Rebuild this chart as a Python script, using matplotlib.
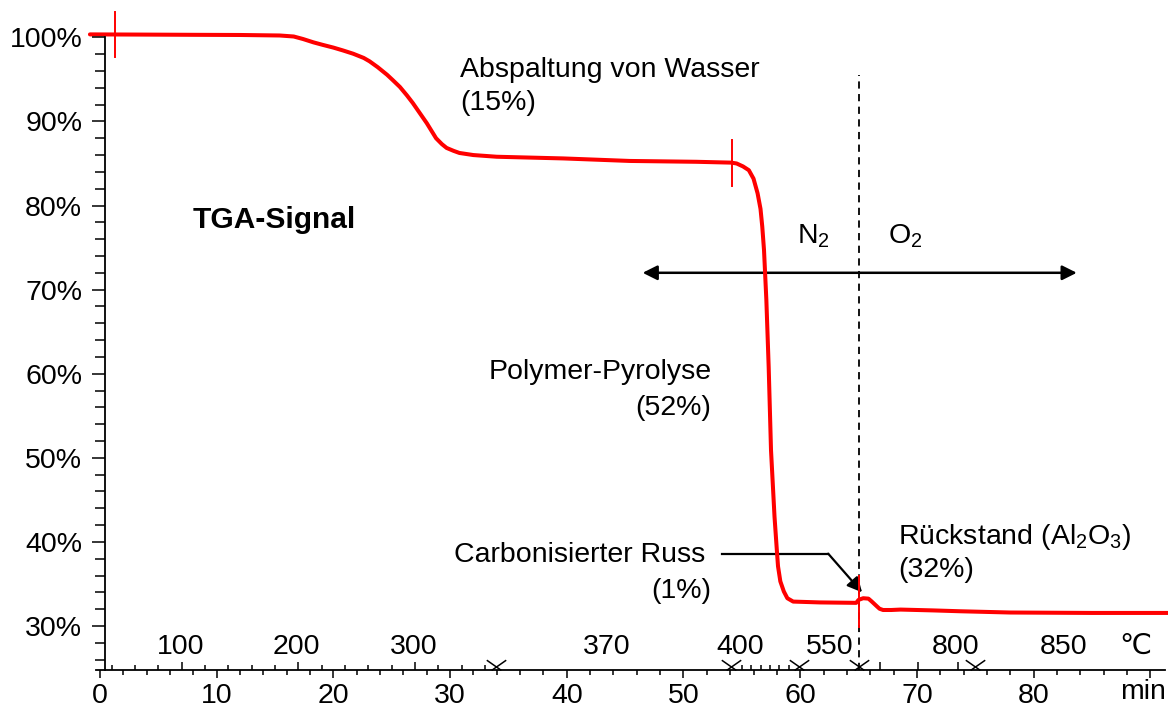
import matplotlib
matplotlib.use("Agg")
import matplotlib.pyplot as plt
from matplotlib.path import Path

plt.rcParams["font.family"] = ["Liberation Sans", "DejaVu Sans"]
plt.rcParams["mathtext.default"] = "regular"
plt.rcParams["mathtext.fontset"] = "custom"
plt.rcParams["mathtext.rm"] = "Liberation Sans"

FS = 20.5
RED = "#ff0000"

# TGA curve: time (min) vs. mass (%)
TIME_MIN = [-0.86, 3.0, 8.0, 12.0, 15.4, 16.6, 17.4, 18.3, 19.1, 20.0, 20.8,
            21.7, 22.6, 23.1, 23.8, 24.6, 25.1, 25.7, 26.3, 26.8, 27.4, 28.0,
            28.4, 28.8, 29.3, 29.7, 30.3, 30.8, 32.0, 34.0, 39.7, 45.4, 51.1,
            54.1, 54.55, 55.1, 55.6, 56.0, 56.35, 56.6, 56.75, 56.9, 57.1,
            57.3, 57.5, 57.8, 58.0, 58.1, 58.3, 58.6, 58.9, 59.4, 61.7, 64.8,
            65.0, 65.4, 65.85, 66.1, 66.6, 66.8, 67.1, 67.8, 68.6, 71.4, 73.7,
            78.0, 85.0, 91.5]
MASS_PCT = [100.35, 100.33, 100.3, 100.28, 100.22, 100.1, 99.8, 99.4, 99.1,
            98.78, 98.45, 98.05, 97.55, 97.15, 96.45, 95.55, 94.9, 94.1, 93.1,
            92.2, 91.0, 89.8, 88.9, 88.0, 87.3, 86.85, 86.5, 86.25, 86.0, 85.8,
            85.6, 85.3, 85.2, 85.1, 85.0, 84.65, 84.2, 83.2, 81.45, 79.6, 77.5,
            74.7, 68.8, 60.8, 50.9, 43.0, 39.0, 37.1, 35.3, 34.1, 33.3, 32.9,
            32.8, 32.75, 33.1, 33.3, 33.25, 32.95, 32.3, 32.05, 31.9, 31.9,
            31.95, 31.85, 31.75, 31.6, 31.55, 31.55]

# step limit markers (red crosses on the curve)
STEP_T = [1.3, 54.2, 65.0]
STEP_LO = [97.7, 82.3, 29.9]
STEP_HI = [103.0, 87.8, 35.9]

# gas switch N2 -> O2
SWITCH_T = 65.0
SWITCH_TOP = 95.5
GAS_ARROW = (46.5, 83.7, 72.0)

# temperature scale along the time axis
TEMP_LABELS = ["100", "200", "300", "370", "400", "550", "800", "850"]
TEMP_POS = [6.9, 16.8, 26.9, 43.4, 54.9, 62.5, 73.3, 82.6]
TEMP_MINOR = [1, 3, 5, 9, 11, 13, 15, 19, 21, 23, 25, 29, 31, 33,
              55.0, 55.8, 56.6, 57.4, 58.2, 59.0]
TEMP_MAJOR = [7, 17, 27, 66.8, 70.1, 73.5]
SEGMENT_BREAKS = [33.9, 54.1, 59.9, 65.0, 75.0]

TIME_TICKS = list(range(0, 91, 10))
TIME_LABELS = ["0", "10", "20", "30", "40", "50", "60", "70", "80", ""]
PCT_TICKS = list(range(30, 101, 10))

W, H = 1171, 715
fig = plt.figure(figsize=(W / 100, H / 100), dpi=100)

x0, x1 = -1.0, 91.5
y0, y1 = 24.8, 104.0
ax_l, ax_r = 88.3, 1167.8
ax_top, ax_bot = 3.7, 669.7
rect = [ax_l / W, (H - ax_bot) / H, (ax_r - ax_l) / W, (ax_bot - ax_top) / H]

ax = fig.add_axes(rect)
ax.set_xlim(x0, x1)
ax.set_ylim(y0, y1)
for s in ("top", "right", "left"):
    ax.spines[s].set_visible(False)
ax.spines["bottom"].set_bounds(-0.3, 91.3)
ax.spines["bottom"].set_linewidth(1.3)
ax.set_yticks([])
ax.set_xticks(TIME_TICKS)
ax.set_xticklabels(TIME_LABELS)
ax.set_xticks([t for t in range(2, 91, 2) if t % 10], minor=True)
ax.tick_params(axis="x", which="major", direction="out", length=5.5, width=1.1,
               labelsize=FS, pad=4)
ax.tick_params(axis="x", which="minor", direction="out", length=3.6, width=1.1)

# temperature ticks pointing up from the time axis
at = ax.twiny()
at.set_xlim(x0, x1)
for s in at.spines.values():
    s.set_visible(False)
at.xaxis.set_ticks_position("bottom")
at.set_xticks(TEMP_MAJOR)
at.set_xticks(TEMP_MINOR, minor=True)
at.tick_params(axis="x", which="both", direction="in", labelbottom=False,
               labeltop=False, width=1.1)
at.tick_params(axis="x", which="major", length=6)
at.tick_params(axis="x", which="minor", length=3.6)

# separate y axis
ay = fig.add_axes([105 / W, rect[1], 0.001, rect[3]])
ay.set_ylim(y0, y1)
ay.patch.set_visible(False)
for s in ("top", "right", "bottom"):
    ay.spines[s].set_visible(False)
ay.spines["left"].set_bounds(y0, 100)
ay.spines["left"].set_linewidth(1.3)
ay.set_xticks([])
ay.set_yticks(PCT_TICKS)
ay.set_yticklabels([f"{p}%" for p in PCT_TICKS])
ay.set_yticks([p for p in range(26, 100, 2) if p % 10], minor=True)
ay.tick_params(axis="y", which="major", length=9.4, width=1.1, labelsize=FS, pad=7)
ay.tick_params(axis="y", which="minor", length=7.2, width=1.1)

# curve and markers
ax.plot(TIME_MIN, MASS_PCT, color=RED, lw=2.9, solid_joinstyle="round",
        solid_capstyle="round", zorder=5)
for t, lo, hi in zip(STEP_T, STEP_LO, STEP_HI):
    ax.plot([t, t], [lo, hi], color=RED, lw=1.4, zorder=5)

ax.plot([SWITCH_T, SWITCH_T], [y0, SWITCH_TOP], color="black", lw=1.3,
        ls=(0, (4, 3)), zorder=3)

a0, a1, ay_ = GAS_ARROW
ax.annotate("", xy=(a1, ay_), xytext=(a0, ay_),
            arrowprops=dict(arrowstyle="<|-|>", color="black", lw=1.8,
                            mutation_scale=22, shrinkA=0, shrinkB=0))
ax.text(61.1, 76.4, "N$_2$", fontsize=FS, ha="center", va="center")
ax.text(69.0, 76.4, "O$_2$", fontsize=FS, ha="center", va="center")

# break markers on the time axis
brk = Path([(-1, 0.75), (0.5, -0.3), (1, 0.75), (-0.5, -0.3)],
           [Path.MOVETO, Path.LINETO, Path.MOVETO, Path.LINETO])
ax.plot(SEGMENT_BREAKS, [y0 + 0.35] * len(SEGMENT_BREAKS), ls="none",
        marker=brk, markersize=14, mec="black", mew=1.1, clip_on=False, zorder=6)

for lab, t in zip(TEMP_LABELS, TEMP_POS):
    ax.text(t, 27.5, lab, fontsize=FS, ha="center", va="center")
ax.text(88.7, 27.5, "\u2103", fontsize=FS, ha="center", va="center")
ax.text(89.4, 22.1, "min", fontsize=FS, ha="center", va="center", clip_on=False)

# annotations
ax.text(30.85, 96.1, "Abspaltung von Wasser", fontsize=FS, ha="left", va="center")
ax.text(30.85, 92.2, "(15%)", fontsize=FS, ha="left", va="center")
ax.text(7.97, 78.3, "TGA-Signal", fontsize=21.5, fontweight="bold", ha="left", va="center")
ax.text(52.4, 60.2, "Polymer-Pyrolyse", fontsize=FS, ha="right", va="center")
ax.text(52.4, 55.9, "(52%)", fontsize=FS, ha="right", va="center")
ax.text(51.9, 38.4, "Carbonisierter Russ", fontsize=FS, ha="right", va="center")
ax.text(52.4, 34.2, "(1%)", fontsize=FS, ha="right", va="center")
ax.text(68.4, 40.6, "Rückstand (Al$_2$O$_3$)", fontsize=FS, ha="left", va="center")
ax.text(68.4, 36.7, "(32%)", fontsize=FS, ha="left", va="center")

ax.plot([53.3, 62.4], [38.6, 38.6], color="black", lw=1.6, zorder=4)
ax.annotate("", xy=(65.3, 34.0), xytext=(62.4, 38.6),
            arrowprops=dict(arrowstyle="-|>", color="black", lw=1.6,
                            mutation_scale=22, shrinkA=0, shrinkB=0), zorder=4)

fig.savefig("out.png", dpi=100, facecolor="white")
